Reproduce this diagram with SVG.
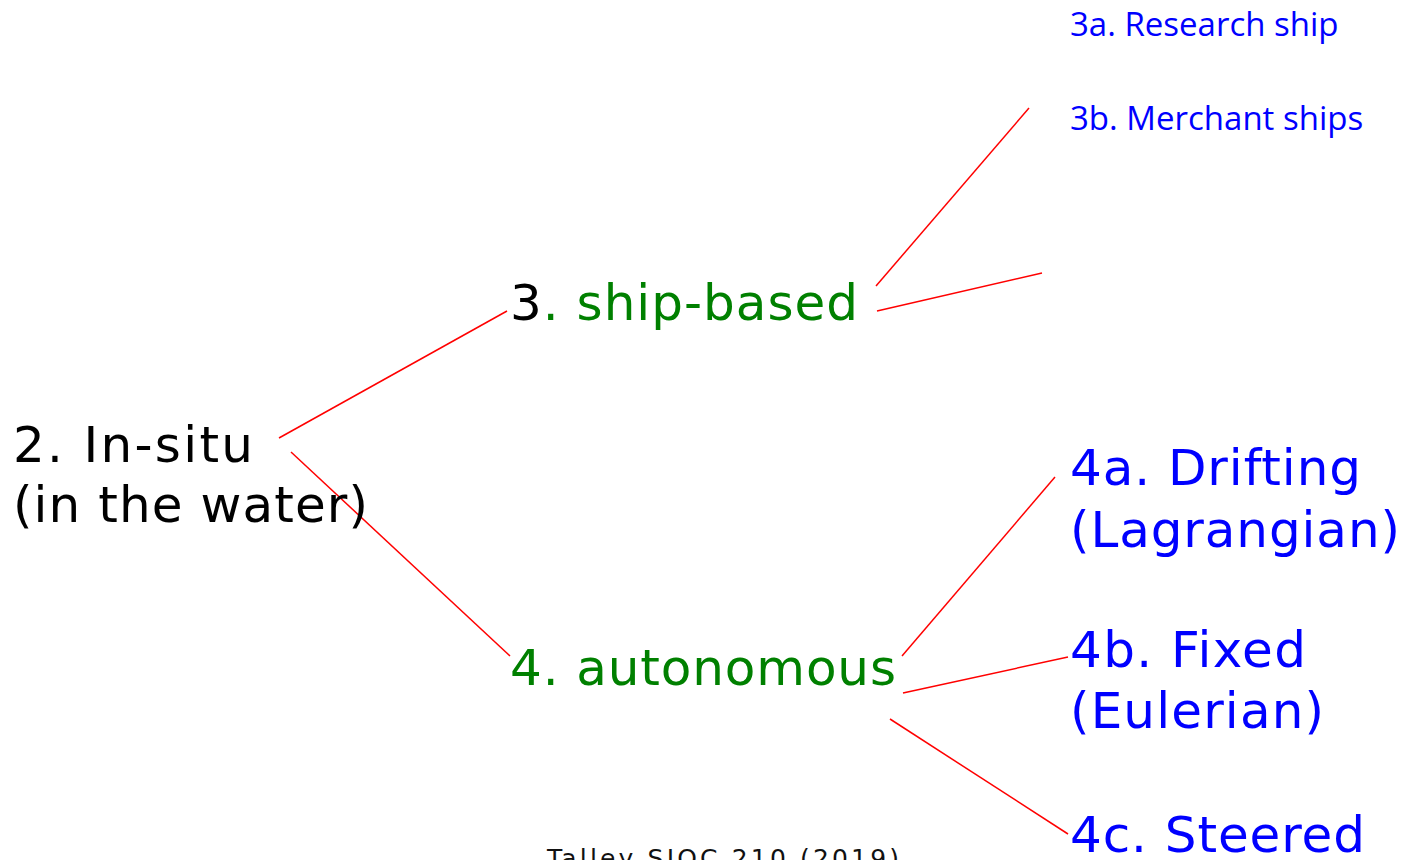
<svg xmlns="http://www.w3.org/2000/svg" width="1402" height="860" viewBox="0 0 1402 860">
  <style>
    .big { font-family: "DejaVu Sans", Verdana, sans-serif; font-size: 50px; }
    .small { font-family: "Open Sans", "Liberation Sans", sans-serif; font-size: 33px; fill: #0000FF; }
    .black { fill: #000000; }
    .green { fill: #008000; }
    .blue { fill: #0000FF; }
    .link { stroke: #FF0000; stroke-width: 1.5; fill: none; }
    .foot { font-family: "DejaVu Sans", Verdana, sans-serif; font-size: 25px; fill: #111111; }
  </style>
  <rect width="1402" height="860" fill="#FFFFFF"/>

  <g id="connectors">
    <line class="link" x1="279" y1="438" x2="507" y2="311"/>
    <line class="link" x1="291" y1="452" x2="510" y2="656"/>
    <line class="link" x1="876" y1="286" x2="1029" y2="108"/>
    <line class="link" x1="877" y1="311" x2="1042" y2="273"/>
    <line class="link" x1="902" y1="656" x2="1055" y2="477"/>
    <line class="link" x1="903" y1="693" x2="1068" y2="657"/>
    <line class="link" x1="890" y1="719" x2="1068" y2="834"/>
  </g>

  <g id="node-insitu">
    <text class="big black" x="13" y="462" textLength="240" lengthAdjust="spacing">2. In-situ</text>
    <text class="big black" x="13" y="522" textLength="355" lengthAdjust="spacing">(in the water)</text>
  </g>

  <g id="node-ship">
    <text class="big" x="510" y="320" textLength="348" lengthAdjust="spacing"><tspan class="black">3</tspan><tspan class="green">. ship-based</tspan></text>
  </g>

  <g id="node-autonomous">
    <text class="big green" x="510" y="685" textLength="386" lengthAdjust="spacing">4. autonomous</text>
  </g>

  <g id="node-research">
    <text class="small" x="1070" y="36">3a. Research ship</text>
  </g>

  <g id="node-merchant">
    <text class="small" x="1070" y="130">3b. Merchant ships</text>
  </g>

  <g id="node-drifting">
    <text class="big blue" x="1070" y="485" textLength="291" lengthAdjust="spacing">4a. Drifting</text>
    <text class="big blue" x="1070" y="547" textLength="330" lengthAdjust="spacing">(Lagrangian)</text>
  </g>

  <g id="node-fixed">
    <text class="big blue" x="1070" y="667" textLength="236" lengthAdjust="spacing">4b. Fixed</text>
    <text class="big blue" x="1070" y="728" textLength="254" lengthAdjust="spacing">(Eulerian)</text>
  </g>

  <g id="node-steered">
    <text class="big blue" x="1070" y="852" textLength="295" lengthAdjust="spacing">4c. Steered</text>
  </g>

  <text class="foot" x="547" y="867" textLength="352" lengthAdjust="spacing">Talley SIOC 210 (2019)</text>
</svg>
